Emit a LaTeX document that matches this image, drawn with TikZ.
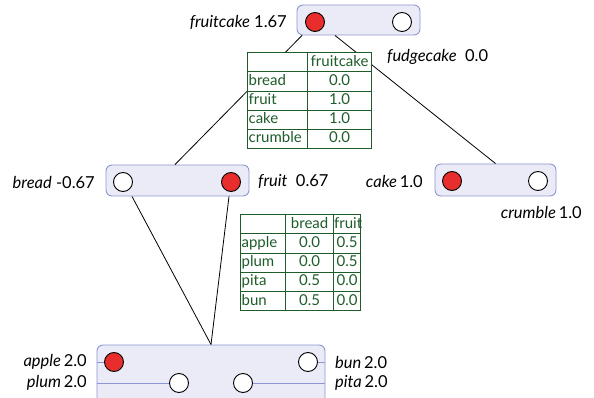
\documentclass[tikz,border=0pt]{standalone}
\usepackage{fontspec}
\setmainfont{Lato}
\usetikzlibrary{matrix,positioning}
\definecolor{boxfill}{RGB}{235,235,247}
\definecolor{boxline}{RGB}{140,150,212}
\definecolor{valred}{RGB}{232,45,45}
\definecolor{tabgreen}{RGB}{30,92,42}
\tikzset{
  sumbox/.style={draw=boxline, fill=boxfill, rounded corners=6pt, line width=0.9pt},
  val/.style={draw, shape=circle, minimum size=19pt, inner sep=0pt, line width=0.9pt, fill=white},
  on/.style={val, fill=valred},
  lbl/.style={inner sep=0pt, font=\fontsize{16.5}{19}\selectfont},
  lane/.style={draw=boxline, line width=0.8pt},
  wtable/.style={matrix of nodes, nodes in empty cells, fill=white, inner sep=0pt,
    column sep=-0.8pt, row sep=-0.8pt,
    nodes={draw=tabgreen, line width=0.8pt, text=tabgreen, minimum height=19.2pt,
      text height=11pt, text depth=3pt, inner xsep=1pt, align=center,
      font=\fontsize{15}{17}\selectfont}}
}
\begin{document}
\begin{tikzpicture}[x=1pt, y=-1pt]
\useasboundingbox (0,0) rectangle (594,398);
% sum boxes
\node (top) [sumbox, minimum width=123pt, minimum height=30pt] at (358.5,20) {};
\node (breadfruit) [sumbox, minimum width=143pt, minimum height=31pt] at (177.5,180.5) {};
\node (cakecrumble) [sumbox, minimum width=121pt, minimum height=32pt] at (495.5,180) {};
\node (leaves) [sumbox, minimum width=228pt, minimum height=60pt] at (211,375) {};
% values
\node (fruitcake) [on] at (315,22) {};
\node (fudgecake) [val] at (402,22) {};
\node (bread) [val] at (123,182) {};
\node (fruit) [on] at (231,182) {};
\node (cake) [on] at (452,181) {};
\node (crumble) [val] at (538,181) {};
\node (apple) [on] at (114,362) {};
\node (bun) [val] at (308,362) {};
\node (plum) [val] at (179,383) {};
\node (pita) [val] at (243,383) {};
\draw[lane] (leaves.west |- apple) -- (apple);
\draw[lane] (bun) -- (leaves.east |- bun);
\draw[lane] (leaves.west |- plum) -- (plum);
\draw[lane] (pita) -- (leaves.east |- pita);
% labels
\node [lbl, anchor=east] at (287,22) {\textit{fruitcake} 1.67};
\node [lbl, anchor=west] at (387,57) {\textit{fudgecake} \ 0.0};
\node [lbl, anchor=east] at (95,182) {\textit{bread} -0.67};
\node [lbl, anchor=west] at (258,182) {\textit{fruit} \ 0.67};
\node [lbl, anchor=east] at (423,181) {\textit{cake}\,1.0};
\node [lbl, anchor=east] at (582,212) {\textit{crumble}\,1.0};
\node [lbl, anchor=east] at (87,362) {\textit{apple}\,2.0};
\node [lbl, anchor=east] at (87,383) {\textit{plum}\,2.0};
\node [lbl, anchor=west] at (335,362) {\textit{bun}\,2.0};
\node [lbl, anchor=west] at (335,383) {\textit{pita}\,2.0};
% edges
\draw[thick] ([xshift=-56.5pt]top.south) -- ([xshift=-2.5pt]breadfruit.north);
\draw[thick] ([xshift=-23.5pt]top.south) -- (cakecrumble.north);
\draw[thick] ([xshift=-45.5pt]breadfruit.south) -- (leaves.north);
\draw[thick] ([xshift=51.5pt]breadfruit.south) -- (leaves.north);
% weight tables
\matrix (topweights) [wtable, anchor=north west,
  column 1/.style={nodes={text width=58pt, align=left}},
  column 2/.style={nodes={text width=62pt}}] at (247,52) {
      & fruitcake \\
  bread & 0.0 \\
  fruit & 1.0 \\
  cake & 1.0 \\
  crumble & 0.0 \\
};
\matrix (midweights) [wtable, anchor=north west,
  column 1/.style={nodes={text width=43pt, align=left}},
  column 2/.style={nodes={text width=46pt}},
  column 3/.style={nodes={text width=26pt, inner xsep=0.5pt}}] at (240,214) {
      & bread & fruit \\
  apple & 0.0 & 0.5 \\
  plum & 0.0 & 0.5 \\
  pita & 0.5 & 0.0 \\
  bun & 0.5 & 0.0 \\
};
\end{tikzpicture}
\end{document}
